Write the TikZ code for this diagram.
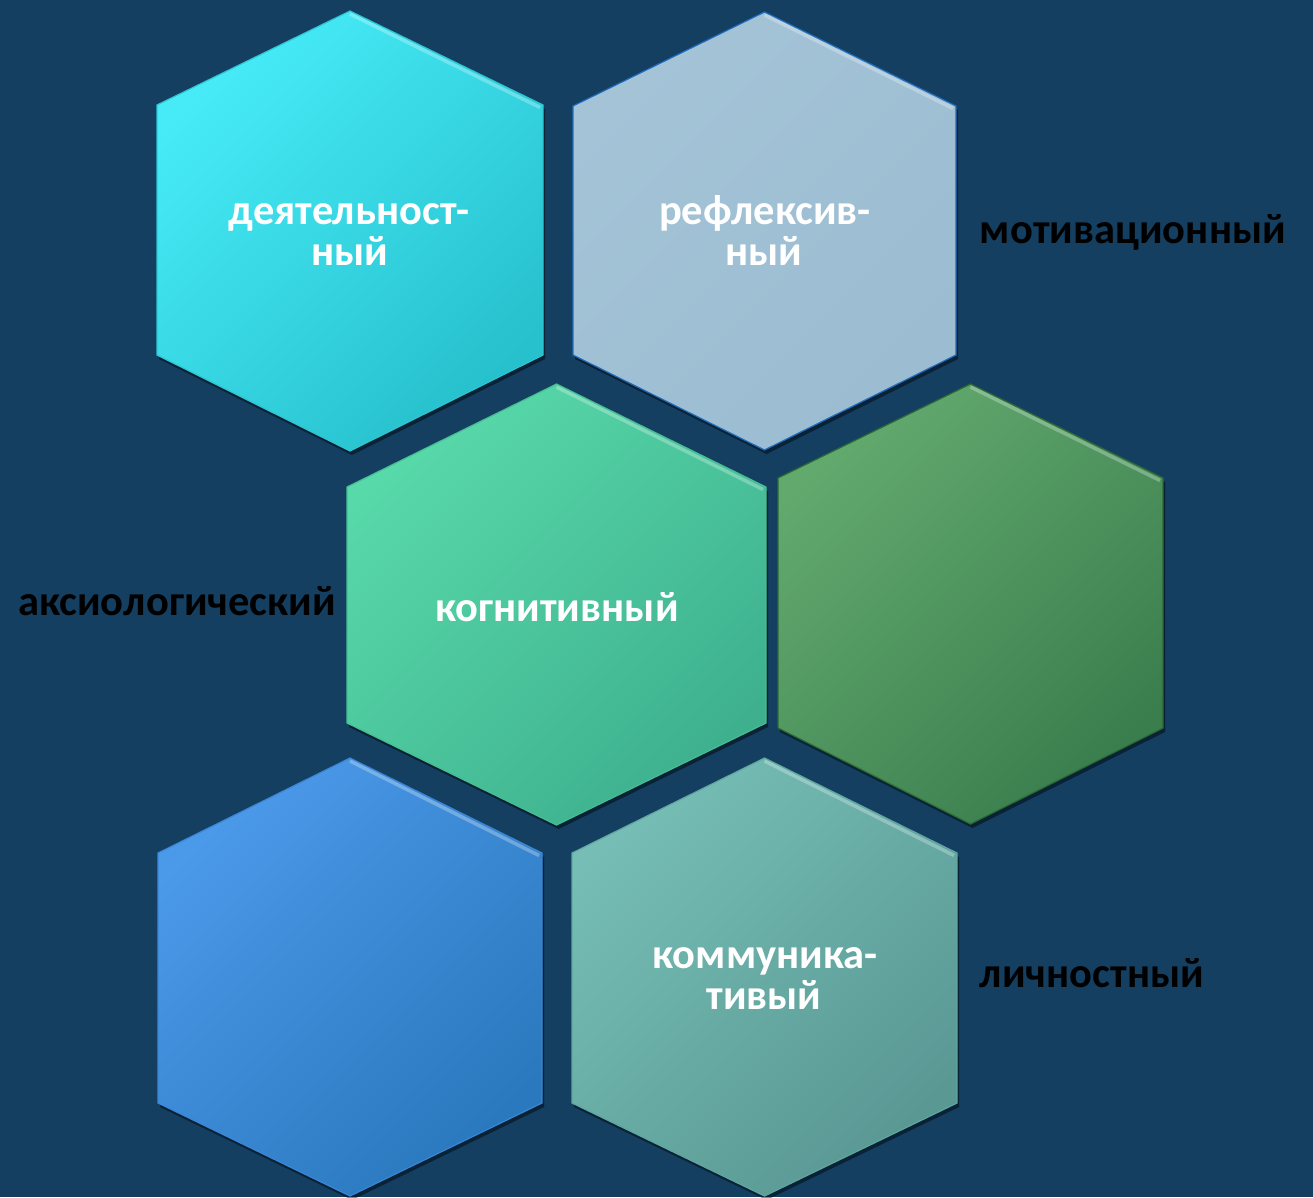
\documentclass[tikz,border=0pt]{standalone}
\usepackage{fontspec}
\setmainfont{Carlito}
\usetikzlibrary{shadows}
\definecolor{bg}{HTML}{143F61}
\definecolor{cyanA}{HTML}{46EBF7}\definecolor{cyanB}{HTML}{27C0CD}\definecolor{cyanE}{HTML}{2EC5D3}
\definecolor{steelA}{HTML}{A4C3D7}\definecolor{steelB}{HTML}{9BBCD1}\definecolor{steelE}{HTML}{1F6CBE}
\definecolor{grnA}{HTML}{58D9AA}\definecolor{grnB}{HTML}{3EB08E}\definecolor{grnE}{HTML}{45BE92}
\definecolor{dgA}{HTML}{62A96E}\definecolor{dgB}{HTML}{3B7E4E}\definecolor{dgE}{HTML}{2B6A35}
\definecolor{bluA}{HTML}{4B99E9}\definecolor{bluB}{HTML}{2A78BD}\definecolor{bluE}{HTML}{3A86D6}
\definecolor{tealA}{HTML}{75BDB5}\definecolor{tealB}{HTML}{5A9894}\definecolor{tealE}{HTML}{5EA6A0}
\tikzset{
  hexbase/.style={line width=1.2pt, drop shadow={shadow xshift=2pt, shadow yshift=-4pt, opacity=0.45, fill=black}},
  hexcyan/.style={hexbase, draw=cyanE, top color=cyanA, bottom color=cyanB, shading angle=45},
  hexsteel/.style={hexbase, draw=steelE, top color=steelA, bottom color=steelB, shading angle=45},
  hexgreen/.style={hexbase, draw=grnE, top color=grnA, bottom color=grnB, shading angle=45},
  hexdark/.style={hexbase, draw=dgE, top color=dgA, bottom color=dgB, shading angle=45},
  hexblue/.style={hexbase, draw=bluE, top color=bluA, bottom color=bluB, shading angle=45},
  hexteal/.style={hexbase, draw=tealE, top color=tealA, bottom color=tealB, shading angle=45},
  bevel/.style={draw=white, opacity=0.28, line width=3.5pt},
  intext/.style={text=white, font=\fontsize{42.5}{42.5}\selectfont\bfseries, inner sep=0pt, anchor=base},
  outtext/.style={text=black, font=\fontsize{42.5}{42.5}\selectfont\bfseries, inner sep=0pt, anchor=base}
}
% #1 left x, #2 right x, #3 top y, #4 upper y, #5 lower y, #6 bottom y, #7 style
\newcommand\hexa[7]{%
  \path[#7] ({(#1+#2)/2},#3) -- (#2,#4) -- (#2,#5) -- ({(#1+#2)/2},#6) -- (#1,#5) -- (#1,#4) -- cycle;
  \draw[bevel] ({(#1+#2)/2},{#3+3}) -- ({#2-3},{#4+2.5});
}
\begin{document}
\begin{tikzpicture}[x=1pt,y=-1pt]
\fill[bg] (0,0) rectangle (1313,1197);
\useasboundingbox (0,0) rectangle (1313,1197);
\hexa{157}{543}{11}{105}{355}{451}{hexcyan}
\hexa{573}{956}{12}{106}{355}{450}{hexsteel}
\hexa{347}{766}{384}{487}{723}{825}{hexgreen}
\hexa{778}{1163}{384}{478}{728}{824}{hexdark}
\hexa{158}{542}{758}{853}{1103}{1196}{hexblue}
\hexa{572}{957}{758}{853}{1103}{1196}{hexteal}
\node[intext] (t1a) at (349,224) {деятельност-};
\node[intext] (t1b) at (350,265) {ный};
\node[intext] (t2a) at (765,224) {рефлексив-};
\node[intext] (t2b) at (764,265) {ный};
\node[intext] (t3) at (557,621) {когнитивный};
\node[intext] (t6a) at (765,968) {коммуника-};
\node[intext] (t6b) at (764,1009) {тивый};
\node[outtext] (l1) at (1133,243) {мотивационный};
\node[outtext] (l2) at (177,615) {аксиологический};
\node[outtext] (l3) at (1092,987) {личностный};
\end{tikzpicture}
\end{document}
